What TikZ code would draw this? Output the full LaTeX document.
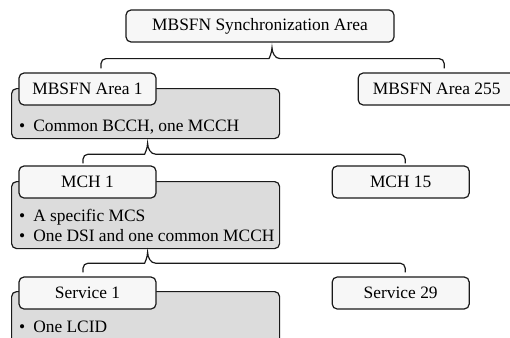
\documentclass[tikz,border=0pt]{standalone}
\usepackage{fontspec}
\setmainfont{Liberation Serif}
\usepackage{tikz}
\usetikzlibrary{positioning}
\definecolor{boxwhite}{HTML}{F7F7F7}
\definecolor{boxgray}{HTML}{DCDCDC}
\definecolor{edgegray}{HTML}{1A1A1A}
\newcommand{\groupbrace}[3]{%
  \draw[braceline] (#2) [rounded corners=5pt] |- ([xshift=-8pt,yshift=-11pt]#1)
    [sharp corners] .. controls +(5,0) and +(0,5) .. (#1)
    .. controls +(0,5) and +(-5,0) .. ([xshift=8pt,yshift=-11pt]#1)
    [rounded corners=5pt] -| (#3);}

\begin{document}
\begin{tikzpicture}[x=1pt, y=-1pt,
    font=\fontsize{17.4}{19.6}\selectfont,
    titlebox/.style={draw=edgegray, line width=1.2pt, fill=boxwhite, rounded corners=5pt,
      minimum width=137pt, minimum height=32pt, inner sep=0pt},
    bodybox/.style={draw=edgegray, line width=1.2pt, fill=boxgray, rounded corners=5pt,
      minimum width=268pt, anchor=north west, inner sep=0pt},
    bullets/.style={anchor=south west, align=left, inner sep=0pt, text depth=0pt},
    braceline/.style={draw=edgegray, line width=1.2pt}]
  \useasboundingbox[fill=white] (0,0) rectangle (510,337);
  % Define nodes
  \node[titlebox, minimum width=268pt] (sync) at (260,26) {MBSFN Synchronization Area};
  \node[bodybox, minimum height=50pt] (area1body) at (11,88) {};
  \node[titlebox] (area1) at (87.5,89) {MBSFN Area 1};
  \node[titlebox, minimum width=157pt, right=201pt of area1] (area255) {MBSFN Area 255};
  \node[bullets] (area1text) at (19,132) {\textbullet\hspace{8pt}Common BCCH, one MCCH};

  \node[bodybox, minimum height=67pt] (mch1body) at (11,181) {};
  \node[titlebox] (mch1) at (87.5,182) {MCH 1};
  \node[titlebox, right=175pt of mch1] (mch15) {MCH 15};
  \node[bullets] (mch1text) at (19,241.3) {\textbullet\hspace{8pt}A specific MCS\\
    \textbullet\hspace{8pt}One DSI and one common MCCH};

  \node[bodybox, minimum height=70pt] (svc1body) at (11,291) {};
  \node[titlebox] (svc1) at (87.5,293) {Service 1};
  \node[titlebox, right=175pt of svc1] (svc29) {Service 29};
  \node[bullets] (svc1text) at (19,332.7) {\textbullet\hspace{8pt}One LCID};

  % Braces
  \coordinate (tip1) at ([xshift=12pt,yshift=-5pt]sync.south);
  \coordinate (tip2) at ([xshift=2pt,yshift=-4pt]area1body.south);
  \coordinate (tip3) at ([xshift=2pt,yshift=-3pt]mch1body.south);
  \groupbrace{tip1}{[xshift=13.5pt,yshift=4pt]area1.north}{[xshift=7.5pt,yshift=4pt]area255.north}
  \groupbrace{tip2}{[xshift=-4.5pt,yshift=2pt]mch1.north}{[xshift=4.5pt,yshift=2pt]mch15.north}
  \groupbrace{tip3}{[xshift=-4.5pt,yshift=4pt]svc1.north}{[xshift=4.5pt,yshift=4pt]svc29.north}
\end{tikzpicture}
\end{document}
